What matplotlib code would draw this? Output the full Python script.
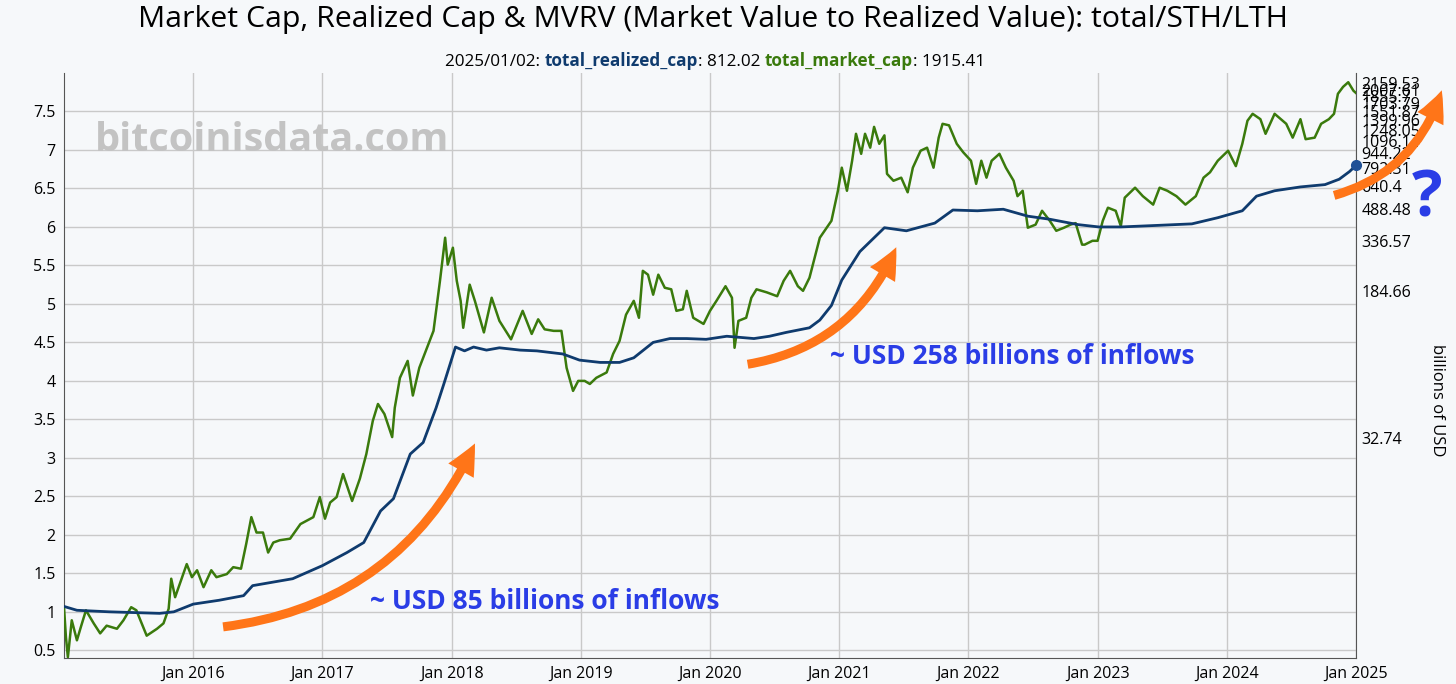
import numpy as np
import matplotlib
matplotlib.use("Agg")
import matplotlib.pyplot as plt
from matplotlib.patches import FancyArrowPatch

plt.rcParams['font.family'] = ['Open Sans', 'DejaVu Sans']

# realized cap (left axis units), dates as decimal years
realized_t = [2015.0, 2015.1, 2015.35, 2015.74, 2015.85, 2016.0, 2016.2, 2016.39, 2016.46,
              2016.77, 2017.0, 2017.19, 2017.32, 2017.45, 2017.55, 2017.68, 2017.78, 2017.88,
              2017.94, 2018.03, 2018.1, 2018.17, 2018.27, 2018.37, 2018.53, 2018.66, 2018.86,
              2018.99, 2019.15, 2019.3, 2019.41, 2019.56, 2019.69, 2019.82, 2019.97, 2020.13,
              2020.34, 2020.46, 2020.59, 2020.77, 2020.85, 2020.94, 2021.02, 2021.16, 2021.35,
              2021.52, 2021.74, 2021.88, 2022.07, 2022.27, 2022.46, 2022.63, 2022.85, 2023.01,
              2023.18, 2023.46, 2023.73, 2023.93, 2024.12, 2024.23, 2024.37, 2024.57, 2024.76,
              2024.87, 2024.95, 2025.0]
realized_v = [1.07, 1.02, 1.0, 0.98, 1.0, 1.1, 1.15, 1.21, 1.34,
              1.43, 1.6, 1.77, 1.9, 2.31, 2.47, 3.05, 3.2, 3.65,
              3.96, 4.44, 4.39, 4.44, 4.40, 4.43, 4.40, 4.39, 4.35,
              4.27, 4.24, 4.24, 4.30, 4.50, 4.55, 4.55, 4.54, 4.58,
              4.55, 4.58, 4.63, 4.69, 4.79, 4.98, 5.31, 5.68, 5.99,
              5.95, 6.05, 6.22, 6.21, 6.23, 6.14, 6.10, 6.03, 6.0,
              6.0, 6.02, 6.04, 6.12, 6.21, 6.40, 6.47, 6.52, 6.55,
              6.62, 6.72, 6.80]

# market cap (left axis units)
market_t = [2015.0, 2015.015, 2015.03, 2015.06, 2015.1, 2015.13, 2015.17, 2015.23, 2015.28,
            2015.33, 2015.41, 2015.46, 2015.52, 2015.56, 2015.64, 2015.72, 2015.77, 2015.81,
            2015.83, 2015.86, 2015.95, 2015.99, 2016.03, 2016.08, 2016.14, 2016.18, 2016.26,
            2016.31, 2016.37, 2016.41, 2016.45, 2016.49, 2016.54, 2016.58, 2016.62, 2016.67,
            2016.75, 2016.83, 2016.93, 2016.98, 2017.02, 2017.06, 2017.11, 2017.16, 2017.23,
            2017.29, 2017.34, 2017.39, 2017.43, 2017.48, 2017.54, 2017.56, 2017.6, 2017.66,
            2017.7, 2017.75, 2017.81, 2017.86, 2017.91, 2017.95, 2017.97, 2018.01, 2018.04,
            2018.07, 2018.09, 2018.14, 2018.18, 2018.25, 2018.31, 2018.37, 2018.46, 2018.55,
            2018.62, 2018.67, 2018.72, 2018.79, 2018.85, 2018.89, 2018.94, 2018.98, 2019.03,
            2019.07, 2019.12, 2019.2, 2019.25, 2019.3, 2019.35, 2019.41, 2019.45, 2019.48,
            2019.52, 2019.56, 2019.6, 2019.65, 2019.7, 2019.74, 2019.79, 2019.82, 2019.87,
            2019.95, 2020.0, 2020.05, 2020.12, 2020.17, 2020.19, 2020.22, 2020.28, 2020.32,
            2020.36, 2020.44, 2020.52, 2020.57, 2020.62, 2020.68, 2020.72, 2020.77, 2020.85,
            2020.94, 2020.99, 2021.02, 2021.06, 2021.1, 2021.13, 2021.17, 2021.2, 2021.24,
            2021.27, 2021.31, 2021.35, 2021.37, 2021.42, 2021.48, 2021.53, 2021.57, 2021.63,
            2021.68, 2021.73, 2021.77, 2021.8, 2021.85, 2021.91, 2021.96, 2022.02, 2022.06,
            2022.1, 2022.14, 2022.18, 2022.24, 2022.29, 2022.35, 2022.38, 2022.42, 2022.46,
            2022.52, 2022.57, 2022.63, 2022.68, 2022.74, 2022.79, 2022.83, 2022.88, 2022.9,
            2022.96, 2023.0, 2023.04, 2023.08, 2023.14, 2023.18, 2023.21, 2023.29, 2023.35,
            2023.43, 2023.48, 2023.54, 2023.61, 2023.68, 2023.76, 2023.82, 2023.87, 2023.93,
            2024.01, 2024.07, 2024.12, 2024.16, 2024.2, 2024.26, 2024.3, 2024.37, 2024.46,
            2024.51, 2024.57, 2024.61, 2024.68, 2024.73, 2024.79, 2024.83, 2024.86, 2024.9,
            2024.94, 2024.98, 2025.0]
market_v = [1.06, 0.67, 0.41, 0.89, 0.63, 0.8, 1.02, 0.85, 0.72,
            0.82, 0.78, 0.89, 1.06, 1.02, 0.69, 0.78, 0.85, 1.04,
            1.43, 1.19, 1.62, 1.45, 1.54, 1.32, 1.54, 1.45, 1.49,
            1.58, 1.56, 1.88, 2.23, 2.03, 2.03, 1.77, 1.9, 1.93,
            1.95, 2.14, 2.23, 2.49, 2.21, 2.42, 2.49, 2.79, 2.44,
            2.73, 3.05, 3.48, 3.7, 3.57, 3.27, 3.65, 4.04, 4.26,
            3.81, 4.17, 4.43, 4.65, 5.30, 5.86, 5.51, 5.73, 5.30,
            5.04, 4.69, 5.25, 5.04, 4.63, 5.08, 4.78, 4.54, 4.91,
            4.61, 4.80, 4.67, 4.65, 4.65, 4.17, 3.87, 4.0, 4.0,
            3.96, 4.04, 4.11, 4.35, 4.52, 4.86, 5.04, 4.82, 5.43,
            5.38, 5.12, 5.38, 5.21, 5.19, 4.91, 4.93, 5.17, 4.82,
            4.74, 4.91, 5.04, 5.23, 5.08, 4.43, 4.78, 4.82, 5.08,
            5.19, 5.15, 5.10, 5.30, 5.43, 5.23, 5.17, 5.34, 5.86,
            6.08, 6.47, 6.77, 6.47, 6.86, 7.21, 6.95, 7.21, 7.03,
            7.30, 7.08, 7.19, 6.69, 6.60, 6.64, 6.45, 6.77, 6.99,
            7.03, 6.77, 7.16, 7.34, 7.32, 7.08, 6.97, 6.86, 6.56,
            6.86, 6.64, 6.86, 6.95, 6.77, 6.60, 6.40, 6.47, 5.99,
            6.03, 6.21, 6.08, 5.95, 5.99, 6.03, 6.05, 5.77, 5.77,
            5.82, 5.82, 6.08, 6.25, 6.21, 6.01, 6.38, 6.51, 6.40,
            6.29, 6.51, 6.47, 6.40, 6.29, 6.40, 6.64, 6.71, 6.86,
            6.99, 6.79, 7.08, 7.38, 7.47, 7.40, 7.21, 7.47, 7.34,
            7.16, 7.40, 7.14, 7.16, 7.34, 7.40, 7.47, 7.73, 7.82,
            7.88, 7.77, 7.74]

left_ticks = [0.5, 1, 1.5, 2, 2.5, 3, 3.5, 4, 4.5, 5, 5.5, 6, 6.5, 7, 7.5]
right_ticks = [32.74, 184.66, 336.57, 488.48, 640.4, 792.31, 944.22, 1096.14, 1248.05,
               1399.96, 1551.87, 1703.79, 1855.7, 2007.61, 2159.53]
year_ticks = list(range(2016, 2026))

BG = '#f6f8fa'
GREEN = '#3a7a0c'
BLUE = '#0f3b6e'
ORANGE = '#ff7518'
TXTBLUE = '#2a3de6'

# left units -> billions of USD
A, B = 1.0995, -0.576


def to_usd(v):
    return np.exp((np.asarray(v) - B) / A)


def from_usd(u):
    return A * np.log(np.clip(np.asarray(u, dtype=float), 1e-9, None)) + B


fig = plt.figure(figsize=(14.56, 6.84), dpi=100, facecolor=BG)
ax = fig.add_axes([64 / 1456, 1 - 658 / 684, 1292 / 1456, 585 / 684])
ax.set_facecolor(BG)

ax.plot(market_t, market_v, color=GREEN, lw=1.8, zorder=3)
ax.plot(realized_t, realized_v, color=BLUE, lw=2.0, zorder=4)
ax.plot(realized_t[-1:], realized_v[-1:], 'o', color='#1f5096', ms=7, zorder=5, clip_on=False)

ax.set_xlim(2015.0, 2025.0)
ax.set_ylim(0.4, 8.0)
ax.set_yticks(left_ticks)
ax.set_yticklabels(['%g' % t for t in left_ticks])
ax.set_xticks(year_ticks)
ax.set_xticklabels(['Jan %d' % y for y in year_ticks])
ax.tick_params(length=0, labelsize=11.5, pad=6)
ax.grid(True, color='#c9c9c9', lw=1)
ax.set_axisbelow(True)
for s in ['left', 'bottom', 'right']:
    ax.spines[s].set_color('#555555')
ax.spines['top'].set_visible(False)

sec = ax.secondary_yaxis('right', functions=(to_usd, from_usd))
sec.set_yticks(right_ticks)
sec.set_yticklabels(['%g' % t for t in right_ticks])
sec.tick_params(length=0, labelsize=11.5, pad=4)
sec.spines['right'].set_visible(False)
fig.text(1437 / 1456, 1 - 400 / 684, 'billions of USD', rotation=270, ha='center', va='center', fontsize=12)

# titles
fig.text(713 / 1456, 1 - 20 / 684, 'Market Cap, Realized Cap & MVRV (Market Value to Realized Value): total/STH/LTH',
         ha='center', va='center', fontsize=21.8)
parts = [('2025/01/02: ', 'black', 'normal'), ('total_realized_cap', BLUE, 'bold'),
         (': 812.02 ', 'black', 'normal'), ('total_market_cap', GREEN, 'bold'),
         (': 1915.41', 'black', 'normal')]
prev = fig.text(445 / 1456, 1 - 66 / 684, parts[0][0], color=parts[0][1], fontweight=parts[0][2],
                fontsize=12.3, va='baseline', ha='left')
for txt, col, fw in parts[1:]:
    prev = ax.annotate(txt, xy=(1, 0), xycoords=prev, va='bottom', ha='left', color=col,
                       fontweight=fw, fontsize=12.3, annotation_clip=False)

# watermark
ax.text(2015.24, 7.12, 'bitcoinisdata.com', fontsize=28.5, fontweight='bold', color='#c3c3c3',
        va='center', ha='left', zorder=1)

# arrows and notes
arrows = [((2016.21, 0.80), (2018.19, 3.22)),
          ((2020.27, 4.21), (2021.45, 5.77)),
          ((2024.81, 6.40), (2025.67, 7.81))]
for (p0, p1) in arrows:
    ar = FancyArrowPatch(p0, p1, connectionstyle='arc3,rad=0.28',
                         arrowstyle='Simple,tail_width=6.5,head_width=21,head_length=22',
                         color=ORANGE, lw=0, zorder=6, clip_on=False)
    ax.add_patch(ar)

ax.text(2017.37, 1.14, '~ USD 85 billions of inflows', fontsize=19, fontweight='bold',
        color=TXTBLUE, va='center', ha='left', zorder=7)
ax.text(2020.93, 4.32, '~ USD 258 billions of inflows', fontsize=19, fontweight='bold',
        color=TXTBLUE, va='center', ha='left', zorder=7)
ax.text(2025.55, 6.35, '?', fontsize=46, fontweight='bold', color=TXTBLUE,
        va='center', ha='center', clip_on=False)

fig.savefig('out.png', dpi=100, facecolor=BG)
